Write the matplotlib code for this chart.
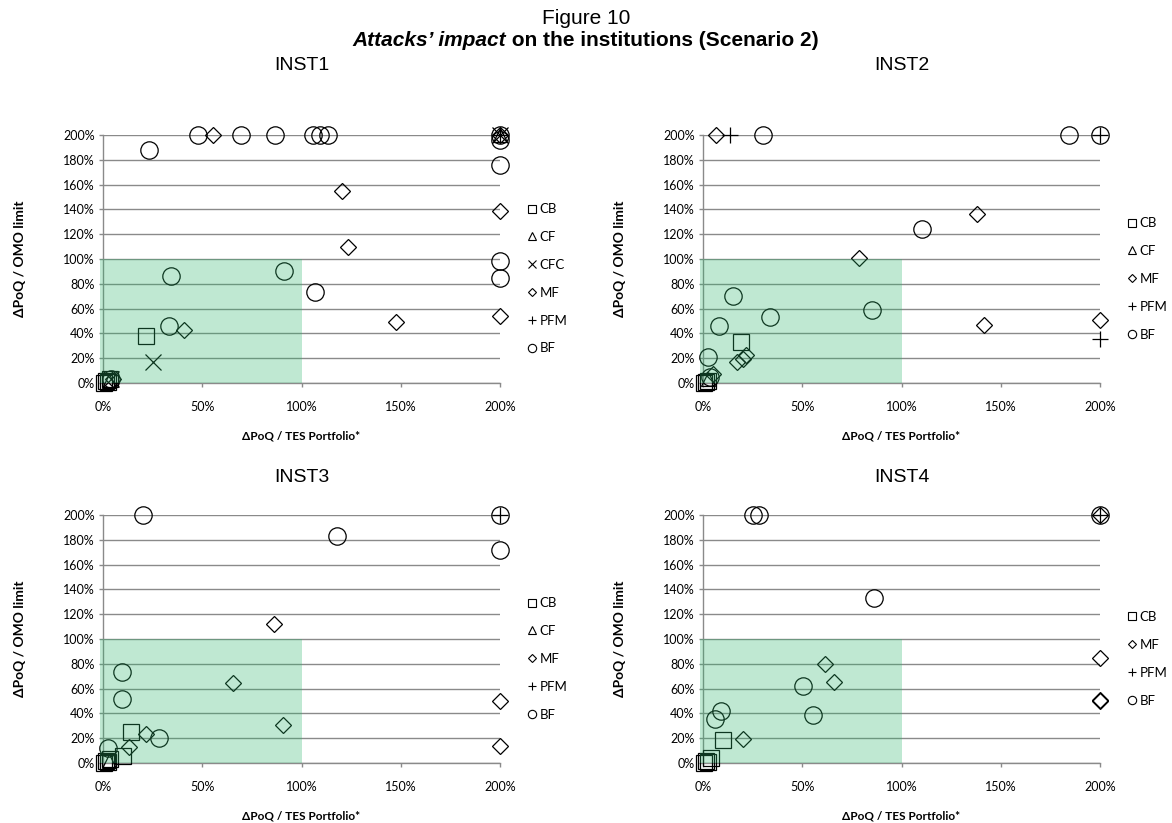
import matplotlib

matplotlib.use("Agg")
import matplotlib.pyplot as plt
from matplotlib.lines import Line2D
from matplotlib.patches import Rectangle
from matplotlib.ticker import PercentFormatter

# values in %, (x = dPoQ / TES portfolio, y = dPoQ / OMO limit), capped at 200
INST1 = {
    "CB": ([0.5, 1.5, 2.5, 3.5, 21.7], [0, 2, 1, 3, 37.6]),
    "CF": ([3, 200], [2, 200]),
    "CFC": ([4, 25.4, 200], [3, 16.9, 200]),
    "MF": ([5, 40.7, 55.4, 120.2, 123.5, 147.4, 200, 200, 200],
           [3, 43, 200, 155.2, 109.5, 48.9, 139, 53.7, 200]),
    "PFM": ([200], [200]),
    "BF": ([4, 23.2, 33.2, 34.4, 47.8, 69.5, 86.8, 91.2, 105.9, 106.7, 109.2, 113.4,
            200, 200, 200, 200, 200],
           [3, 188, 46.2, 86.4, 200, 200, 200, 90.5, 200, 73, 200, 200,
            200, 196, 176, 98, 84.6]),
}
INST2 = {
    "CB": ([0.5, 1.5, 2.5, 19], [0, 1, 2, 33]),
    "CF": ([2.5], [3]),
    "MF": ([5, 6.8, 16.9, 20, 21.5, 78.8, 137.8, 141.5, 200],
           [7, 200, 16.6, 19.3, 22.8, 101.2, 136.4, 47, 50.5]),
    "PFM": ([13.6, 200, 200], [200, 200, 35.4]),
    "BF": ([2.5, 3.5, 8.1, 15.3, 30.2, 33.6, 85.3, 110.1, 184.4, 200],
           [20.7, 5, 46.2, 69.8, 200, 52.9, 58.5, 124.3, 200, 200]),
}
INST3 = {
    "CB": ([0.5, 1.5, 2.5, 3.5, 10, 14.2], [0, 2, 1, 3, 5.3, 24.9]),
    "CF": ([3], [2]),
    "MF": ([13.3, 21.7, 65.3, 86.3, 90.5, 200, 200],
           [12.8, 23.5, 64.7, 112.3, 30.7, 50.3, 13.4]),
    "PFM": ([200], [200]),
    "BF": ([2.5, 9.7, 9.7, 20, 28, 118, 200, 200],
           [12, 73.5, 51.6, 200, 20, 183.2, 200, 172]),
}
INST4 = {
    "CB": ([0.5, 1.5, 2.5, 4, 10.2], [0, 2, 1, 4, 18.7]),
    "MF": ([20.3, 61.4, 65.8, 200, 200, 200, 200], [19.3, 79.7, 65, 200, 85, 51, 50]),
    "PFM": ([200], [200]),
    "BF": ([5.9, 9.3, 25.1, 28, 50.3, 55.4, 85.9, 200],
           [35.6, 42, 200, 200, 62.3, 38.8, 132.9, 200]),
}
PANELS = [("INST1", INST1), ("INST2", INST2), ("INST3", INST3), ("INST4", INST4)]

MARKERS = {"CB": "s", "CF": "^", "CFC": "x", "MF": "D", "PFM": "+", "BF": "o"}
SIZES = {"CB": 11.5, "CF": 10, "CFC": 12, "MF": 7.8, "PFM": 11, "BF": 12.5}

GRID = "#8a8a8a"
ZONE = (45 / 255, 182 / 255, 108 / 255)
TXT = "Liberation Sans"
TICK = "Lato"

fig = plt.figure(figsize=(11.72, 8.23), dpi=100)
fig.text(0.5, 1 - 19 / 823, "Figure 10", ha="center", va="center",
         family=TXT, fontsize=15)
# subtitle: bold-italic part + bold part, centred together
t1 = fig.text(0.5, 1 - 41 / 823, "Attacks\u2019 impact", ha="left", va="center",
              family=TXT, fontsize=15, weight="bold", style="italic")
t2 = fig.text(0.5, 1 - 41 / 823, " on the institutions (Scenario 2)", ha="left",
              va="center", family=TXT, fontsize=15, weight="bold")
renderer = fig.canvas.get_renderer()
w1 = t1.get_window_extent(renderer).width / 1172
w2 = t2.get_window_extent(renderer).width / 1172
t1.set_x(0.5 - (w1 + w2) / 2)
t2.set_x(0.5 - (w1 + w2) / 2 + w1)

lefts = [103, 703, 103, 703]
bottoms = [383, 383, 763, 763]
title_y = [66, 66, 477, 477]
W, H = 397, 248

for (name, data), left, bottom, ty in zip(PANELS, lefts, bottoms, title_y):
    ax = fig.add_axes([left / 1172, 1 - bottom / 823, W / 1172, H / 823])
    for key, (xs, ys) in data.items():
        ax.plot(xs, ys, ls="none", marker=MARKERS[key], ms=SIZES[key],
                mfc="none", mec="black", mew=0.9, color="black",
                clip_on=False, zorder=3)
    # "safe" zone overlay, drawn over the markers like the original
    ax.add_patch(Rectangle((-1.5, 0), 101.5, 100, fc=ZONE, ec="none", alpha=0.3,
                           zorder=5, clip_on=False))
    ax.set_xlim(0, 200)
    ax.set_ylim(0, 200)
    ax.set_xticks(range(0, 201, 50))
    ax.set_yticks(range(0, 201, 20))
    ax.xaxis.set_major_formatter(PercentFormatter(decimals=0))
    ax.yaxis.set_major_formatter(PercentFormatter(decimals=0))
    ax.grid(axis="y", color=GRID, lw=1.0, zorder=1)
    ax.set_axisbelow(True)
    for s in ("top", "right"):
        ax.spines[s].set_visible(False)
    for s in ("left", "bottom"):
        ax.spines[s].set_color(GRID)
        ax.spines[s].set_linewidth(1.0)
    ax.tick_params(axis="both", colors=GRID, length=3, width=1.0,
                   labelcolor="black", labelsize=9)
    ax.tick_params(axis="x", pad=10)
    ax.tick_params(axis="y", pad=3)
    for lab in ax.get_xticklabels() + ax.get_yticklabels():
        lab.set_family(TICK)
    fig.text((left + W / 2) / 1172, 1 - ty / 823, name, ha="center", va="center",
             family=TXT, fontsize=14)
    ax.set_ylabel("\u0394PoQ / OMO limit", family=TICK, fontsize=10,
                  weight="bold")
    ax.yaxis.set_label_coords(-0.195, 0.5)
    ax.set_xlabel("\u0394PoQ / TES Portfolio*", family=TICK, fontsize=8.5,
                  weight="bold")
    ax.xaxis.set_label_coords(0.5, -0.19)

    handles = [Line2D([], [], ls="none", marker=MARKERS[k], ms=6 if k != "MF" else 4.5,
                      mfc="none", mec="black", mew=0.8) for k in data]
    ax.legend(handles, list(data), loc="center left", bbox_to_anchor=(1.04, 0.42),
              frameon=False, handlelength=0.6, handletextpad=0.3,
              labelspacing=1.2, prop={"family": TICK, "size": 9.5})

fig.savefig("out.png", dpi=100)
